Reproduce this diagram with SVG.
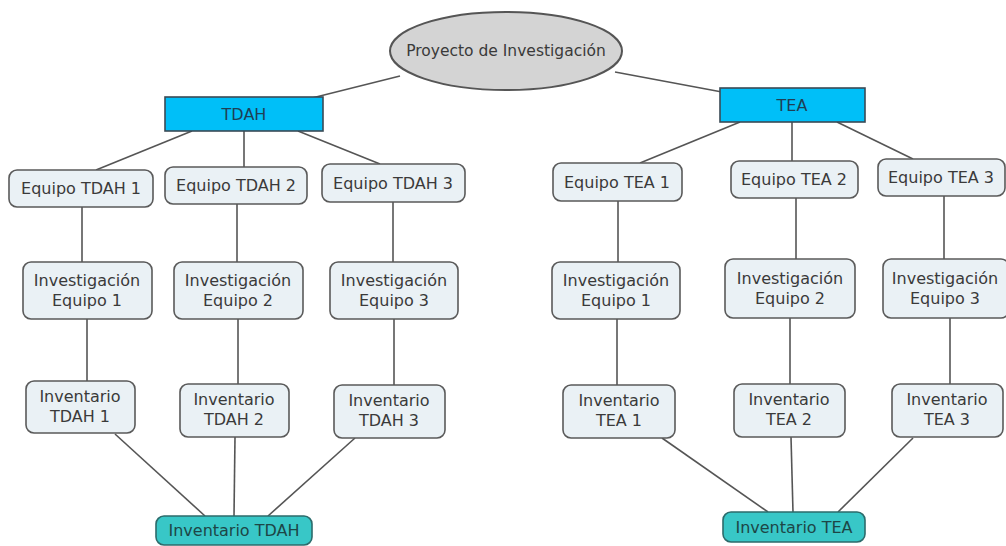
<svg xmlns="http://www.w3.org/2000/svg" width="1006" height="546" viewBox="0 0 1006 546">
<style>
.bg{fill:#ffffff}
.c line{stroke:#555;stroke-width:1.6}
.n rect{fill:#eaf1f5;stroke:#5a5a5a;stroke-width:1.6}
.h rect{fill:#00bff8;stroke:#3a4a55;stroke-width:1.6}
.b rect{fill:#38c7c7;stroke:#2c6b6b;stroke-width:1.6}
text{font-family:"DejaVu Sans",Verdana,sans-serif;font-size:16px;fill:#3a3a3a;text-anchor:middle}
.h text{fill:#1f3f55}
.b text{fill:#1d4646}
</style>
<rect class="bg" x="0" y="0" width="1006" height="546"/>
<g id="connectors" class="c">
<line x1="400" y1="76" x2="312" y2="98"/>
<line x1="615" y1="72" x2="722" y2="92"/>
<line x1="192" y1="131" x2="96" y2="170"/>
<line x1="244" y1="131" x2="244" y2="167"/>
<line x1="298" y1="131" x2="380" y2="164"/>
<line x1="740" y1="122" x2="640" y2="163"/>
<line x1="792" y1="122" x2="792" y2="161"/>
<line x1="837" y1="122" x2="913" y2="159"/>
<line x1="82" y1="207" x2="82" y2="262"/>
<line x1="237" y1="204" x2="237" y2="262"/>
<line x1="393" y1="202" x2="393" y2="262"/>
<line x1="618" y1="201" x2="618" y2="262"/>
<line x1="796" y1="198" x2="796" y2="259"/>
<line x1="944" y1="196" x2="944" y2="259"/>
<line x1="87" y1="319" x2="87" y2="381"/>
<line x1="238" y1="319" x2="238" y2="384"/>
<line x1="394" y1="319" x2="394" y2="385"/>
<line x1="617" y1="319" x2="617" y2="385"/>
<line x1="790" y1="318" x2="790" y2="384"/>
<line x1="950" y1="318" x2="950" y2="384"/>
<line x1="115" y1="434" x2="205" y2="516"/>
<line x1="235" y1="437" x2="234" y2="516"/>
<line x1="355" y1="438" x2="268" y2="516"/>
<line x1="662" y1="438" x2="768" y2="512"/>
<line x1="791" y1="437" x2="793" y2="512"/>
<line x1="913" y1="438" x2="838" y2="512"/>
</g>
<g id="proyecto">
<ellipse cx="506" cy="51" rx="116" ry="39" fill="#d4d4d4" stroke="#555" stroke-width="2"/>
<text x="506" y="56" style="font-size:15.5px">Proyecto de Investigación</text>
</g>
<g id="tdah" class="h"><rect x="165" y="97" width="158" height="34"/><text x="244" y="120">TDAH</text></g>
<g id="tea" class="h"><rect x="720" y="88" width="145" height="34"/><text x="792" y="111">TEA</text></g>
<g id="eq-tdah-1" class="n"><rect x="9" y="170" width="144" height="37" rx="8"/><text x="81" y="194">Equipo TDAH 1</text></g>
<g id="eq-tdah-2" class="n"><rect x="165" y="167" width="142" height="37" rx="8"/><text x="236" y="191">Equipo TDAH 2</text></g>
<g id="eq-tdah-3" class="n"><rect x="322" y="164" width="143" height="38" rx="8"/><text x="393" y="189">Equipo TDAH 3</text></g>
<g id="eq-tea-1" class="n"><rect x="553" y="163" width="129" height="38" rx="8"/><text x="617" y="188">Equipo TEA 1</text></g>
<g id="eq-tea-2" class="n"><rect x="731" y="161" width="127" height="37" rx="8"/><text x="794" y="185">Equipo TEA 2</text></g>
<g id="eq-tea-3" class="n"><rect x="878" y="159" width="127" height="37" rx="8"/><text x="941" y="183">Equipo TEA 3</text></g>
<g id="inv-tdah-1" class="n"><rect x="23" y="262" width="129" height="57" rx="8"/><text x="87" y="286">Investigación</text><text x="87" y="306">Equipo 1</text></g>
<g id="inv-tdah-2" class="n"><rect x="174" y="262" width="129" height="57" rx="8"/><text x="238" y="286">Investigación</text><text x="238" y="306">Equipo 2</text></g>
<g id="inv-tdah-3" class="n"><rect x="330" y="262" width="128" height="57" rx="8"/><text x="394" y="286">Investigación</text><text x="394" y="306">Equipo 3</text></g>
<g id="inv-tea-1" class="n"><rect x="552" y="262" width="128" height="57" rx="8"/><text x="616" y="286">Investigación</text><text x="616" y="306">Equipo 1</text></g>
<g id="inv-tea-2" class="n"><rect x="725" y="259" width="130" height="59" rx="8"/><text x="790" y="284">Investigación</text><text x="790" y="304">Equipo 2</text></g>
<g id="inv-tea-3" class="n"><rect x="883" y="259" width="126" height="59" rx="8"/><text x="945" y="284">Investigación</text><text x="945" y="304">Equipo 3</text></g>
<g id="invent-tdah-1" class="n"><rect x="26" y="381" width="109" height="52" rx="8"/><text x="80" y="402">Inventario</text><text x="80" y="422">TDAH 1</text></g>
<g id="invent-tdah-2" class="n"><rect x="180" y="384" width="109" height="53" rx="8"/><text x="234" y="405">Inventario</text><text x="234" y="425">TDAH 2</text></g>
<g id="invent-tdah-3" class="n"><rect x="334" y="385" width="111" height="53" rx="8"/><text x="389" y="406">Inventario</text><text x="389" y="426">TDAH 3</text></g>
<g id="invent-tea-1" class="n"><rect x="563" y="385" width="112" height="53" rx="8"/><text x="619" y="406">Inventario</text><text x="619" y="426">TEA 1</text></g>
<g id="invent-tea-2" class="n"><rect x="734" y="384" width="111" height="53" rx="8"/><text x="789" y="405">Inventario</text><text x="789" y="425">TEA 2</text></g>
<g id="invent-tea-3" class="n"><rect x="892" y="384" width="111" height="53" rx="8"/><text x="947" y="405">Inventario</text><text x="947" y="425">TEA 3</text></g>
<g id="inventario-tdah" class="b"><rect x="156" y="516" width="156" height="29" rx="8"/><text x="234" y="536">Inventario TDAH</text></g>
<g id="inventario-tea" class="b"><rect x="723" y="512" width="142" height="30" rx="8"/><text x="794" y="533">Inventario TEA</text></g>
</svg>
